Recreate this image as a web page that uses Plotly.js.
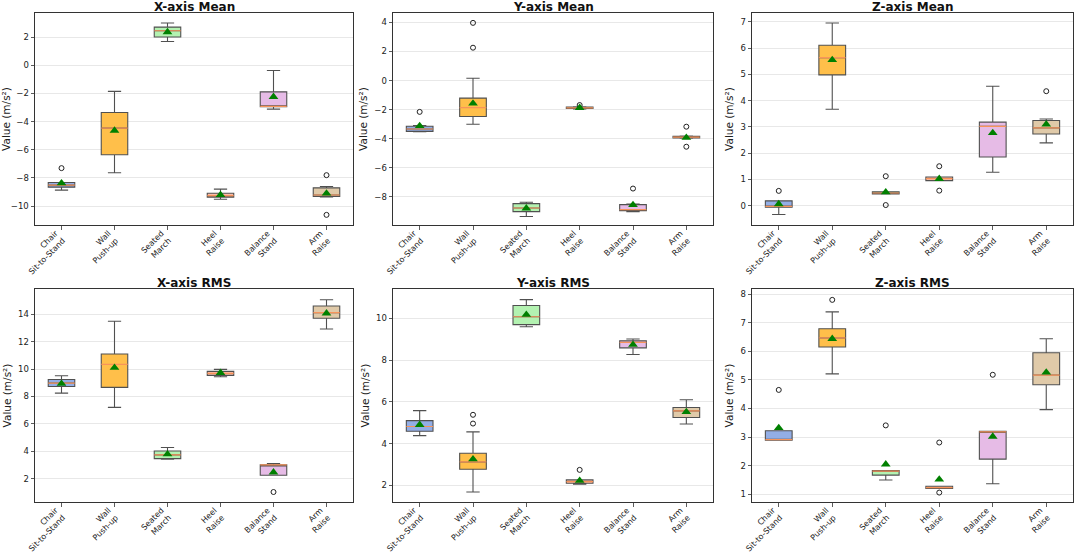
<!DOCTYPE html>
<html>
<head>
<meta charset="utf-8">
<script src="https://cdn.plot.ly/plotly-3.0.1.min.js"></script>
<style>html,body{margin:0;padding:0;background:#fff;}#chart{width:1081px;height:553px;}</style>
</head>
<body>
<div id="chart"></div>
<script>
// ---------- data ----------
const categories = ['Chair Sit-to-Stand', 'Wall Push-up', 'Seated March', 'Heel Raise', 'Balance Stand', 'Arm Raise'];
const tickLabels = ['Chair<br>Sit-to-Stand', 'Wall<br>Push-up', 'Seated<br>March', 'Heel<br>Raise', 'Balance<br>Stand', 'Arm<br>Raise'];
const panelTitles = ['X-axis Mean', 'Y-axis Mean', 'Z-axis Mean', 'X-axis RMS', 'Y-axis RMS', 'Z-axis RMS'];

// X-axis Mean
const xMeanQ1   = [-8.66, -6.36, 2.00, -9.37, -2.95, -9.33];
const xMeanMed  = [-8.52, -4.47, 2.45, -9.26, -2.92, -9.22];
const xMeanQ3   = [-8.33, -3.36, 2.71, -9.09, -1.89, -8.71];
const xMeanLo   = [-8.87, -7.64, 1.69, -9.52, -3.12, -9.35];
const xMeanHi   = [-8.33, -1.86, 3.00, -8.80, -0.37, -8.62];
const xMeanAvg  = [-8.38, -4.64, 2.36, -9.21, -2.24, -9.11];
const xMeanOutCat = ['Chair Sit-to-Stand', 'Arm Raise', 'Arm Raise'];
const xMeanOutVal = [-7.31, -7.81, -10.63];

// Y-axis Mean
const yMeanQ1   = [-3.50, -2.48, -9.03, -1.93, -8.96, -3.96];
const yMeanMed  = [-3.34, -1.86, -8.78, -1.88, -8.89, -3.90];
const yMeanQ3   = [-3.15, -1.21, -8.48, -1.83, -8.55, -3.85];
const yMeanLo   = [-3.52, -3.01, -9.36, -1.95, -9.03, -3.98];
const yMeanHi   = [-3.10, 0.16, -8.38, -1.81, -8.50, -3.82];
const yMeanAvg  = [-3.13, -1.58, -8.80, -1.88, -8.57, -3.94];
const yMeanOutCat = ['Chair Sit-to-Stand', 'Wall Push-up', 'Wall Push-up', 'Heel Raise', 'Balance Stand', 'Arm Raise', 'Arm Raise'];
const yMeanOutVal = [-2.16, 3.97, 2.26, -1.69, -7.44, -3.18, -4.56];

// Z-axis Mean
const zMeanQ1   = [-0.06, 4.98, 0.44, 0.95, 1.85, 2.73];
const zMeanMed  = [-0.03, 5.64, 0.48, 1.03, 3.02, 2.96];
const zMeanQ3   = [0.18, 6.11, 0.53, 1.09, 3.18, 3.24];
const zMeanLo   = [-0.34, 3.67, 0.44, 0.95, 1.27, 2.39];
const zMeanHi   = [0.18, 6.96, 0.53, 1.09, 4.55, 3.30];
const zMeanAvg  = [0.06, 5.55, 0.51, 1.02, 2.77, 3.10];
const zMeanOutCat = ['Chair Sit-to-Stand', 'Seated March', 'Seated March', 'Heel Raise', 'Heel Raise', 'Arm Raise'];
const zMeanOutVal = [0.56, 1.12, 0.02, 1.50, 0.57, 4.36];

// X-axis RMS
const xRmsQ1   = [8.73, 8.66, 3.46, 9.54, 2.24, 13.71];
const xRmsMed  = [8.98, 10.34, 3.73, 9.68, 3.00, 14.12];
const xRmsQ3   = [9.24, 11.10, 4.02, 9.83, 3.00, 14.61];
const xRmsLo   = [8.24, 7.20, 3.41, 9.44, 2.24, 12.93];
const xRmsHi   = [9.51, 13.49, 4.27, 9.98, 3.10, 15.07];
const xRmsAvg  = [8.93, 10.10, 3.78, 9.73, 2.46, 14.07];
const xRmsOutCat = ['Balance Stand'];
const xRmsOutVal = [1.02];

// Y-axis RMS
const yRmsQ1   = [4.59, 2.77, 9.70, 2.10, 8.59, 5.25];
const yRmsMed  = [4.82, 3.12, 10.08, 2.18, 8.85, 5.57];
const yRmsQ3   = [5.10, 3.54, 10.62, 2.26, 8.93, 5.73];
const yRmsLo   = [4.38, 1.68, 9.60, 2.05, 8.27, 4.94];
const yRmsHi   = [5.58, 4.56, 10.90, 2.26, 9.01, 6.10];
const yRmsAvg  = [4.90, 3.25, 10.18, 2.22, 8.74, 5.52];
const yRmsOutCat = ['Wall Push-up', 'Wall Push-up', 'Heel Raise'];
const yRmsOutVal = [5.38, 4.96, 2.74];

// Z-axis RMS
const zRmsQ1   = [2.89, 6.15, 1.67, 1.20, 2.23, 4.83];
const zRmsMed  = [2.91, 6.47, 1.81, 1.23, 3.18, 5.17];
const zRmsQ3   = [3.22, 6.79, 1.83, 1.28, 3.20, 5.95];
const zRmsLo   = [2.89, 5.21, 1.50, 1.20, 1.37, 3.96];
const zRmsHi   = [3.22, 7.38, 1.83, 1.28, 3.20, 6.44];
const zRmsAvg  = [3.32, 6.44, 2.05, 1.52, 3.02, 5.26];
const zRmsOutCat = ['Chair Sit-to-Stand', 'Wall Push-up', 'Seated March', 'Heel Raise', 'Heel Raise', 'Balance Stand'];
const zRmsOutVal = [4.65, 7.80, 3.41, 2.81, 1.06, 5.18];

// ---------- styling ----------
const boxFill = ['#93aee6', '#ffbf4a', '#b3f2b1', '#fbbcaa', '#e6bbe6', '#e0caa9'];
const panels = [
  {q1: xMeanQ1, med: xMeanMed, q3: xMeanQ3, lo: xMeanLo, hi: xMeanHi, avg: xMeanAvg, oc: xMeanOutCat, ov: xMeanOutVal, range: [-11.35, 3.71], dtick: 2},
  {q1: yMeanQ1, med: yMeanMed, q3: yMeanQ3, lo: yMeanLo, hi: yMeanHi, avg: yMeanAvg, oc: yMeanOutCat, ov: yMeanOutVal, range: [-9.95, 4.65], dtick: 2},
  {q1: zMeanQ1, med: zMeanMed, q3: zMeanQ3, lo: zMeanLo, hi: zMeanHi, avg: zMeanAvg, oc: zMeanOutCat, ov: zMeanOutVal, range: [-0.74, 7.34], dtick: 1},
  {q1: xRmsQ1, med: xRmsMed, q3: xRmsQ3, lo: xRmsLo, hi: xRmsHi, avg: xRmsAvg, oc: xRmsOutCat, ov: xRmsOutVal, range: [0.29, 15.85], dtick: 2},
  {q1: yRmsQ1, med: yRmsMed, q3: yRmsQ3, lo: yRmsLo, hi: yRmsHi, avg: yRmsAvg, oc: yRmsOutCat, ov: yRmsOutVal, range: [1.2, 11.41], dtick: 2},
  {q1: zRmsQ1, med: zRmsMed, q3: zRmsQ3, lo: zRmsLo, hi: zRmsHi, avg: zRmsAvg, oc: zRmsOutCat, ov: zRmsOutVal, range: [0.73, 8.18], dtick: 1}
];

const W = 1081, H = 553;
const colPx = [[35, 353], [393, 713], [752, 1073]];
const rowPx = [[13, 225], [289, 502]];
const titleYPx = [7, 283];

const traces = [];
const layout = {
  width: W, height: H,
  margin: {l: 0, r: 0, t: 0, b: 0},
  paper_bgcolor: '#ffffff', plot_bgcolor: '#ffffff',
  showlegend: false,
  boxmode: 'overlay',
  font: {family: 'DejaVu Sans, sans-serif', size: 9, color: '#222'},
  annotations: []
};

panels.forEach((p, i) => {
  const sfx = i === 0 ? '' : String(i + 1);
  const xa = 'x' + sfx, ya = 'y' + sfx;
  const col = i % 3, row = Math.floor(i / 3);
  const xd = [colPx[col][0] / W, colPx[col][1] / W];
  const yd = [1 - rowPx[row][1] / H, 1 - rowPx[row][0] / H];

  categories.forEach((c, k) => {
    traces.push({
      type: 'box', xaxis: xa, yaxis: ya,
      x: [c], q1: [p.q1[k]], median: [p.med[k]], q3: [p.q3[k]],
      lowerfence: [p.lo[k]], upperfence: [p.hi[k]],
      width: 0.5, whiskerwidth: 0.5,
      fillcolor: boxFill[k],
      line: {color: '#505050', width: 1.1},
      boxpoints: false, hoverinfo: 'skip'
    });
  });
  // median lines
  traces.push({
    type: 'box', xaxis: xa, yaxis: ya,
    x: categories, q1: p.med, median: p.med, q3: p.med,
    lowerfence: p.med, upperfence: p.med,
    width: 0.5, whiskerwidth: 0,
    fillcolor: 'rgba(0,0,0,0)',
    line: {color: '#f7945a', width: 1.2},
    boxpoints: false, hoverinfo: 'skip'
  });
  // outliers
  traces.push({
    type: 'scatter', mode: 'markers', xaxis: xa, yaxis: ya,
    x: p.oc, y: p.ov,
    marker: {symbol: 'circle-open', size: 5, color: '#222', line: {width: 1, color: '#222'}},
    hoverinfo: 'skip'
  });
  // means
  traces.push({
    type: 'scatter', mode: 'markers', xaxis: xa, yaxis: ya,
    x: categories, y: p.avg,
    marker: {symbol: 'triangle-up', size: 8.5, color: '#008000'},
    hoverinfo: 'skip'
  });

  layout['xaxis' + sfx] = {
    domain: xd, anchor: ya,
    type: 'category',
    categoryorder: 'array', categoryarray: categories,
    range: [-0.5, 5.5],
    tickvals: categories, ticktext: tickLabels,
    tickangle: -45,
    tickfont: {size: 8, color: '#222'},
    ticklabelstandoff: -4,
    ticklabelshift: -6,
    ticks: 'outside', ticklen: 3.5, tickcolor: '#333', tickwidth: 0.8,
    showgrid: false, zeroline: false,
    showline: true, mirror: true, linecolor: '#333', linewidth: 1,
    automargin: false, fixedrange: true
  };
  layout['yaxis' + sfx] = {
    domain: yd, anchor: xa,
    range: p.range, dtick: p.dtick, tick0: 0,
    tickfont: {size: 8.5, color: '#222'},
    ticks: 'outside', ticklen: 3.5, tickcolor: '#333', tickwidth: 0.8,
    showgrid: true, gridcolor: '#e8e8e8', gridwidth: 1,
    zeroline: false,
    showline: true, mirror: true, linecolor: '#333', linewidth: 1,
    title: {text: 'Value (m/s²)', font: {size: 10.5, color: '#222'}, standoff: 4},
    automargin: false, fixedrange: true
  };
  layout.annotations.push({
    text: '<b>' + panelTitles[i] + '</b>',
    xref: 'paper', yref: 'paper',
    x: (xd[0] + xd[1]) / 2, y: 1 - titleYPx[row] / H,
    xanchor: 'center', yanchor: 'middle',
    showarrow: false,
    font: {family: 'DejaVu Sans, sans-serif', size: 12, color: '#111'}
  });
});

Plotly.newPlot('chart', traces, layout, {displayModeBar: false, staticPlot: true});
</script>
</body>
</html>
